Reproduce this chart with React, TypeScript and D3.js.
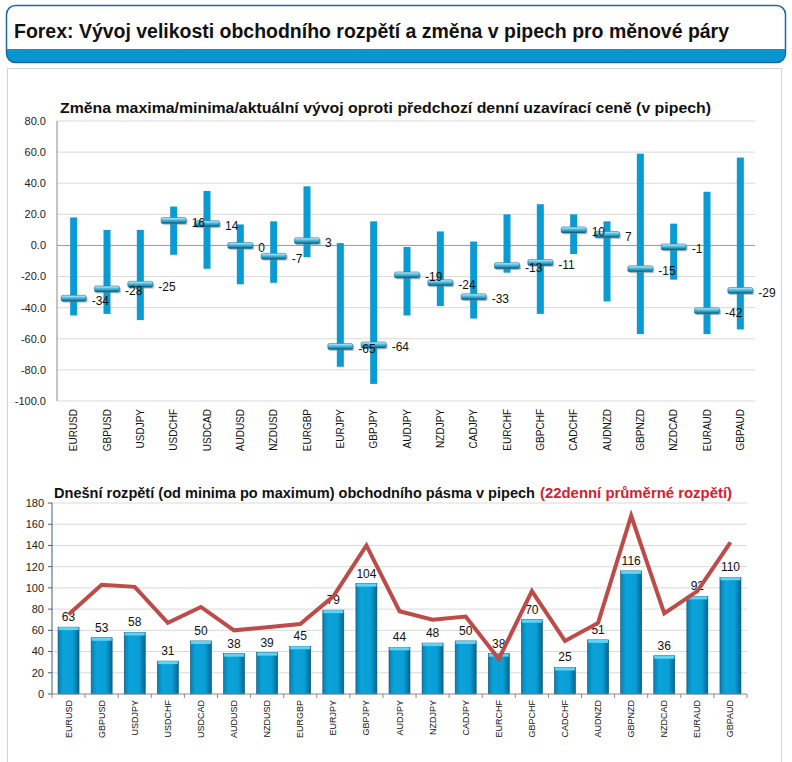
import React from 'react';
import * as d3 from 'd3';

// menove pary (stejne pro oba grafy)
const pairs = [
  'EURUSD', 'GBPUSD', 'USDJPY', 'USDCHF', 'USDCAD', 'AUDUSD', 'NZDUSD', 'EURGBP',
  'EURJPY', 'GBPJPY', 'AUDJPY', 'NZDJPY', 'CADJPY', 'EURCHF', 'GBPCHF', 'CADCHF',
  'AUDNZD', 'GBPNZD', 'NZDCAD', 'EURAUD', 'GBPAUD',
];

// horni graf: maximum / minimum / aktualni zmena (pipy)
const highs = [18, 10, 10, 25, 35, 13.5, 15.5, 38, 1.5, 15.5, -1, 9, 2.5, 20, 26.5, 20, 15.5, 59, 14, 34.5, 56.5];
const lows = [-45, -44, -48, -6, -15, -25, -24, -7.5, -78, -89, -45, -39, -47, -17.5, -44, -5.5, -36, -57, -22, -57, -54];
const current = [-34, -28, -25, 16, 14, 0, -7, 3, -65, -64, -19, -24, -33, -13, -11, 10, 7, -15, -1, -42, -29];
const topTicks = [-100, -80, -60, -40, -20, 0, 20, 40, 60, 80];

// dolni graf: dnesni rozpeti a 22denni prumer
const todayRange = [63, 53, 58, 31, 50, 38, 39, 45, 79, 104, 44, 48, 50, 38, 70, 25, 51, 116, 36, 92, 110];
const avg22 = [75, 103, 101, 67, 82, 60, 63, 66, 92, 140, 78, 70, 73, 33, 97, 50, 67, 168, 76, 97, 143];
const bottomTicks = [0, 20, 40, 60, 80, 100, 120, 140, 160, 180];

const FONT = '"Liberation Sans", Arial, sans-serif';

const App = () => {
  // horni graf
  const xTop = d3.scaleBand<string>().domain(pairs).range([57, 757]);
  const yTop = d3.scaleLinear().domain([-100, 80]).range([401, 121]);
  const cTop = (i: number) => (xTop(pairs[i]) as number) + xTop.bandwidth() / 2;

  // dolni graf
  const xBotFull = d3.scaleBand<string>().domain(pairs).range([52, 747]);
  const yBot = d3.scaleLinear().domain([0, 180]).range([694, 503]);
  const cBot = (i: number) => (xBotFull(pairs[i]) as number) + xBotFull.bandwidth() / 2;
  const barW = 21;

  const line = d3
    .line<number>()
    .x((_, i) => cBot(i))
    .y((d) => yBot(d));

  return (
    <svg
      width={792}
      height={762}
      style={{ position: 'absolute', left: 0, top: 0, background: '#fff' }}
      fontFamily={FONT}
    >
      <defs>
        <clipPath id="hdrClip">
          <rect x={6.5} y={5.5} width={779} height={57} rx={9} />
        </clipPath>
        <linearGradient id="marker" x1="0" y1="0" x2="0" y2="1">
          <stop offset="0" stopColor="#d6f3fb" />
          <stop offset="0.35" stopColor="#5cc6e8" />
          <stop offset="0.7" stopColor="#1e93bf" />
          <stop offset="1" stopColor="#0e4e68" />
        </linearGradient>
        <linearGradient id="barGrad" x1="0" y1="0" x2="1" y2="0">
          <stop offset="0" stopColor="#0a7fb0" />
          <stop offset="0.25" stopColor="#0aa3da" />
          <stop offset="0.7" stopColor="#0a9fd6" />
          <stop offset="1" stopColor="#06668f" />
        </linearGradient>
      </defs>

      {/* hlavicka */}
      <g clipPath="url(#hdrClip)">
        <rect x={0} y={0} width={792} height={70} fill="#fff" />
        <rect x={0} y={49} width={792} height={20} fill="#0796cf" />
      </g>
      <rect x={6.5} y={5.5} width={779} height={57} rx={9} fill="none" stroke="#1b6aa8" strokeWidth={1.5} />
      <text x={14} y={38} fontSize={20} fontWeight="bold" fill="#111" textLength={715} lengthAdjust="spacingAndGlyphs">
        Forex: Vývoj velikosti obchodního rozpětí a změna v pipech pro měnové páry
      </text>

      {/* panel */}
      <rect x={7.5} y={68.5} width={774} height={720} fill="none" stroke="#d4d4d4" />

      {/* ---------- horni graf ---------- */}
      <text x={60} y={113} fontSize={15} fontWeight="bold" fill="#111" textLength={651} lengthAdjust="spacingAndGlyphs">
        Změna maxima/minima/aktuální vývoj oproti předchozí denní uzavírací ceně (v pipech)
      </text>
      {topTicks.map((t) => (
        <g key={t}>
          <line x1={57} x2={755} y1={yTop(t)} y2={yTop(t)} stroke={t === 0 ? '#9a9a9a' : '#d9d9d9'} />
          <text x={46} y={yTop(t)} dy="0.35em" fontSize={11} textAnchor="end" fill="#222">
            {t.toFixed(1)}
          </text>
        </g>
      ))}
      <line x1={57} x2={57} y1={yTop(80)} y2={yTop(-100)} stroke="#8c8c8c" />

      {pairs.map((p, i) => (
        <rect
          key={'hl' + p}
          x={cTop(i) - 3.5}
          width={7}
          y={yTop(highs[i])}
          height={yTop(lows[i]) - yTop(highs[i])}
          fill="#0a9bd3"
        />
      ))}
      {pairs.map((p, i) => (
        <g key={'cur' + p}>
          <rect x={cTop(i) - 11} y={yTop(current[i]) - 1.5} width={25} height={6} rx={1.5} fill="#6f8a96" opacity={0.45} />
          <rect
            x={cTop(i) - 12.5}
            y={yTop(current[i]) - 3}
            width={25}
            height={6}
            rx={1.5}
            fill="url(#marker)"
            stroke="#2f6c86"
            strokeWidth={0.6}
          />
        </g>
      ))}
      {pairs.map((p, i) => (
        <text key={'lab' + p} x={cTop(i) + 18} y={yTop(current[i]) + 2} dy="0.35em" fontSize={12} fill="#111">
          {current[i]}
        </text>
      ))}
      {pairs.map((p, i) => (
        <text
          key={'xt' + p}
          transform={`translate(${cTop(i) + 3.5},409) rotate(-90)`}
          fontSize={10}
          textAnchor="end"
          fill="#111"
        >
          {p}
        </text>
      ))}

      {/* ---------- dolni graf ---------- */}
      <text x={54} y={498} fontSize={14.5} fontWeight="bold" fill="#111" textLength={481} lengthAdjust="spacingAndGlyphs">
        Dnešní rozpětí (od minima po maximum) obchodního pásma v pipech
      </text>
      <text x={540} y={498} fontSize={14.5} fontWeight="bold" fill="#d4202e" textLength={192} lengthAdjust="spacingAndGlyphs">
        (22denní průměrné rozpětí)
      </text>
      {bottomTicks.map((t) => (
        <g key={'b' + t}>
          {t > 0 && <line x1={52} x2={747} y1={yBot(t)} y2={yBot(t)} stroke="#d9d9d9" />}
          <line x1={48} x2={52} y1={yBot(t)} y2={yBot(t)} stroke="#3d5f82" />
          <text x={44} y={yBot(t)} dy="0.35em" fontSize={11} textAnchor="end" fill="#222">
            {t}
          </text>
        </g>
      ))}

      {pairs.map((p, i) => {
        const x = cBot(i) - barW / 2;
        const y = yBot(todayRange[i]);
        return (
          <g key={'bar' + p}>
            <rect x={x} y={y} width={barW} height={yBot(0) - y} fill="url(#barGrad)" stroke="#0a506e" strokeWidth={0.6} />
            <rect x={x + 0.5} y={y} width={barW - 1} height={3} fill="#5dd3f5" />
            <text x={cBot(i)} y={y - 6} fontSize={12} textAnchor="middle" fill="#111">
              {todayRange[i]}
            </text>
          </g>
        );
      })}

      <line x1={52} x2={52} y1={yBot(180)} y2={yBot(0)} stroke="#3d5f82" />
      <line x1={52} x2={747} y1={yBot(0)} y2={yBot(0)} stroke="#8a8a8a" />
      {pairs.map((p) => (
        <line
          key={'tk' + p}
          x1={xBotFull(p) as number}
          x2={xBotFull(p) as number}
          y1={yBot(0)}
          y2={yBot(0) + 4}
          stroke="#8a8a8a"
        />
      ))}
      <line x1={747} x2={747} y1={yBot(0)} y2={yBot(0) + 4} stroke="#8a8a8a" />

      <path d={line(avg22) as string} fill="none" stroke="#be4b48" strokeWidth={4} strokeLinejoin="miter" />

      {pairs.map((p, i) => (
        <text
          key={'xb' + p}
          transform={`translate(${cBot(i) + 3},700) rotate(-90)`}
          fontSize={9}
          textAnchor="end"
          fill="#111"
        >
          {p}
        </text>
      ))}
    </svg>
  );
};

export default App;
